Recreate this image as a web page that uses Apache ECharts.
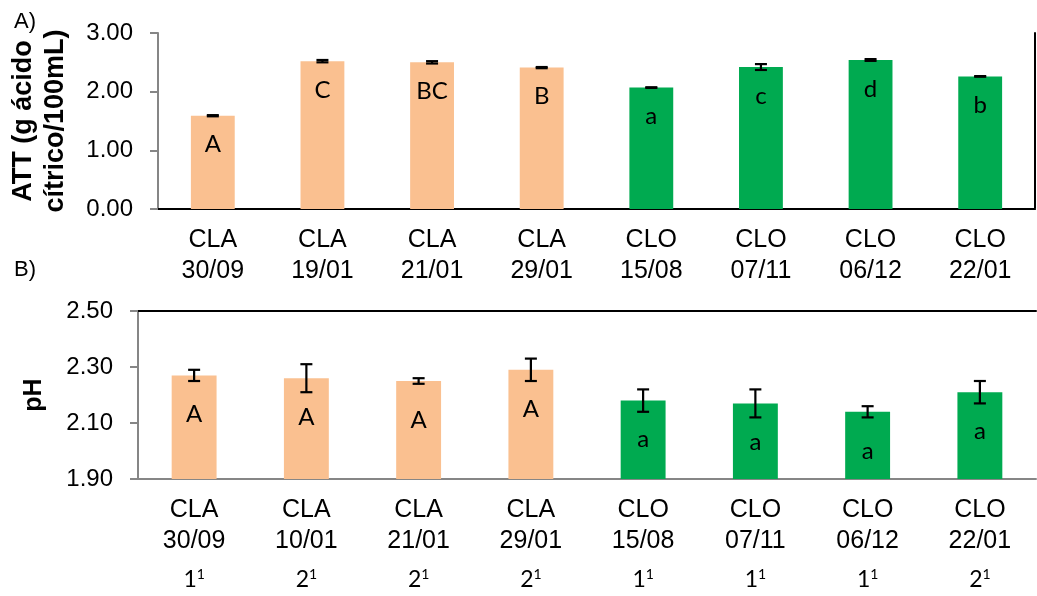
<!DOCTYPE html>
<html><head><meta charset="utf-8">
<script src="https://cdn.jsdelivr.net/npm/echarts@6/dist/echarts.min.js"></script>
<style>html,body{margin:0;padding:0;background:#fff}#c{width:1037px;height:596px}</style>
</head><body><div id="c"></div>
<script>
// ---- data ----
const attCategories = ['CLA\n30/09','CLA\n19/01','CLA\n21/01','CLA\n29/01','CLO\n15/08','CLO\n07/11','CLO\n06/12','CLO\n22/01'];
const attValues = [1.59, 2.52, 2.50, 2.41, 2.07, 2.42, 2.54, 2.26];
const attErrors = [0.01, 0.02, 0.02, 0.01, 0.005, 0.05, 0.015, 0.005];
const attLetters = ['A','C','BC','B','a','c','d','b'];
const attTicks = [0, 3, 1];           // min, max, interval

const phCategories = ['CLA\n30/09','CLA\n10/01','CLA\n21/01','CLA\n29/01','CLO\n15/08','CLO\n07/11','CLO\n06/12','CLO\n22/01'];
const phValues = [2.27, 2.26, 2.25, 2.29, 2.18, 2.17, 2.14, 2.21];
const phErrors = [0.02, 0.05, 0.01, 0.04, 0.04, 0.05, 0.02, 0.04];
const phLetters = ['A','A','A','A','a','a','a','a'];
const phTicks = [1.9, 2.5, 0.2];

const groupNumbers = ['1','2','2','2','1','1','1','2'];
const groupSuperscripts = ['1','1','1','1','1','1','1','1'];

// ---- styles ----
const PEACH = '#FAC090', GREEN = '#00AA50';
const AXIS_GRAY = '#868686';
const FONT = '"Liberation Sans", Arial, sans-serif';
const LETTER_FONT = 'Lato, "Open Sans", sans-serif';

function colorFor(cat){ return cat.startsWith('CLA') ? PEACH : GREEN; }

function catAxis(grid, cats){
  return {type:'category', gridIndex:grid, data:cats, position:'bottom',
    axisLine:{show:true, lineStyle:{color:AXIS_GRAY, width:2}},
    axisTick:{show:false},
    axisLabel:{color:'#000', fontFamily:FONT, fontSize:25, lineHeight:31, margin:16, interval:0}};
}
function topLine(grid, cats){
  return {type:'category', gridIndex:grid, data:cats, position:'top',
    axisLine:{show:true, lineStyle:{color:'#000', width:2}},
    axisTick:{show:false}, axisLabel:{show:false}};
}
function valAxis(grid, t, name, gap, nameSize){
  return {type:'value', gridIndex:grid, min:t[0], max:t[1], interval:t[2], position:'left',
    name:name, nameLocation:'middle', nameGap:gap,
    nameTextStyle:{fontFamily:FONT, fontSize:nameSize, fontWeight:'bold', color:'#000', lineHeight:32},
    axisLine:{show:true, lineStyle:{color:AXIS_GRAY, width:2}},
    axisTick:{show:true, length:8, lineStyle:{color:AXIS_GRAY, width:2}},
    splitLine:{show:false},
    axisLabel:{color:'#000', fontFamily:FONT, fontSize:24, margin:25, formatter:v=>v.toFixed(2)}};
}
function barSeries(xi, yi, cats, vals, letters, dist){
  return {type:'bar', xAxisIndex:xi, yAxisIndex:yi, barCategoryGap:'60%',
    data: vals.map((v,i)=>({value:v, itemStyle:{color:colorFor(cats[i])}})),
    label:{show:true, position:'insideTop', distance:dist, color:'#000',
      fontFamily:LETTER_FONT, fontSize:24, formatter:p=>letters[p.dataIndex]}};
}
function errSeries(xi, yi, vals, errs){
  return {type:'custom', xAxisIndex:xi, yAxisIndex:yi, z:10,
    encode:{x:0, y:[1,2]},
    data: vals.map((v,i)=>[i, v-errs[i], v+errs[i]]),
    renderItem(params, api){
      const lo = api.coord([api.value(0), api.value(1)]);
      const hi = api.coord([api.value(0), api.value(2)]);
      const hw = 6, st = {stroke:'#000', lineWidth:2.2};
      return {type:'group', children:[
        {type:'line', shape:{x1:lo[0], y1:lo[1], x2:hi[0], y2:hi[1]}, style:st},
        {type:'line', shape:{x1:lo[0]-hw, y1:lo[1], x2:lo[0]+hw, y2:lo[1]}, style:st},
        {type:'line', shape:{x1:hi[0]-hw, y1:hi[1], x2:hi[0]+hw, y2:hi[1]}, style:st}
      ]};
    }};
}

const chart = echarts.init(document.getElementById('c'), null, {renderer:'canvas'});
chart.setOption({
  animation:false,
  backgroundColor:'#fff',
  title:[
    {text:'A)', left:9, top:6, textStyle:{fontFamily:FONT, fontSize:22, fontWeight:'normal', color:'#000'}},
    {text:'B)', left:9, top:254, textStyle:{fontFamily:FONT, fontSize:22, fontWeight:'normal', color:'#000'}}
  ],
  grid:[
    {left:155, top:33, width:880, height:176},
    {left:138, top:311, width:898, height:168}
  ],
  xAxis:[
    catAxis(0, attCategories),
    topLine(0, attCategories),
    catAxis(1, phCategories),
    topLine(1, phCategories),
    {type:'category', gridIndex:1, data:groupNumbers, position:'bottom', offset:88,
      axisLine:{show:false}, axisTick:{show:false},
      axisLabel:{interval:0, margin:0, color:'#000',
        formatter:(v,i)=>'{n|'+v+'}{s|'+groupSuperscripts[i]+'}',
        rich:{n:{fontFamily:LETTER_FONT, fontSize:23, lineHeight:26, color:'#000'},
              s:{fontFamily:LETTER_FONT, fontSize:14, lineHeight:14, verticalAlign:'top', color:'#000'}}}}
  ],
  yAxis:[
    valAxis(0, attTicks, 'ATT (g ácido\ncítrico/100mL)', 86, 27),
    {type:'value', gridIndex:0, min:attTicks[0], max:attTicks[1], position:'right',
      axisLine:{show:true, lineStyle:{color:'#000', width:2}}, axisTick:{show:false},
      axisLabel:{show:false}, splitLine:{show:false}},
    valAxis(1, phTicks, 'pH', 88, 25)
  ],
  series:[
    barSeries(0, 0, attCategories, attValues, attLetters, 17),
    errSeries(0, 0, attValues, attErrors),
    barSeries(2, 2, phCategories, phValues, phLetters, 27),
    errSeries(2, 2, phValues, phErrors)
  ]
});
</script></body></html>
